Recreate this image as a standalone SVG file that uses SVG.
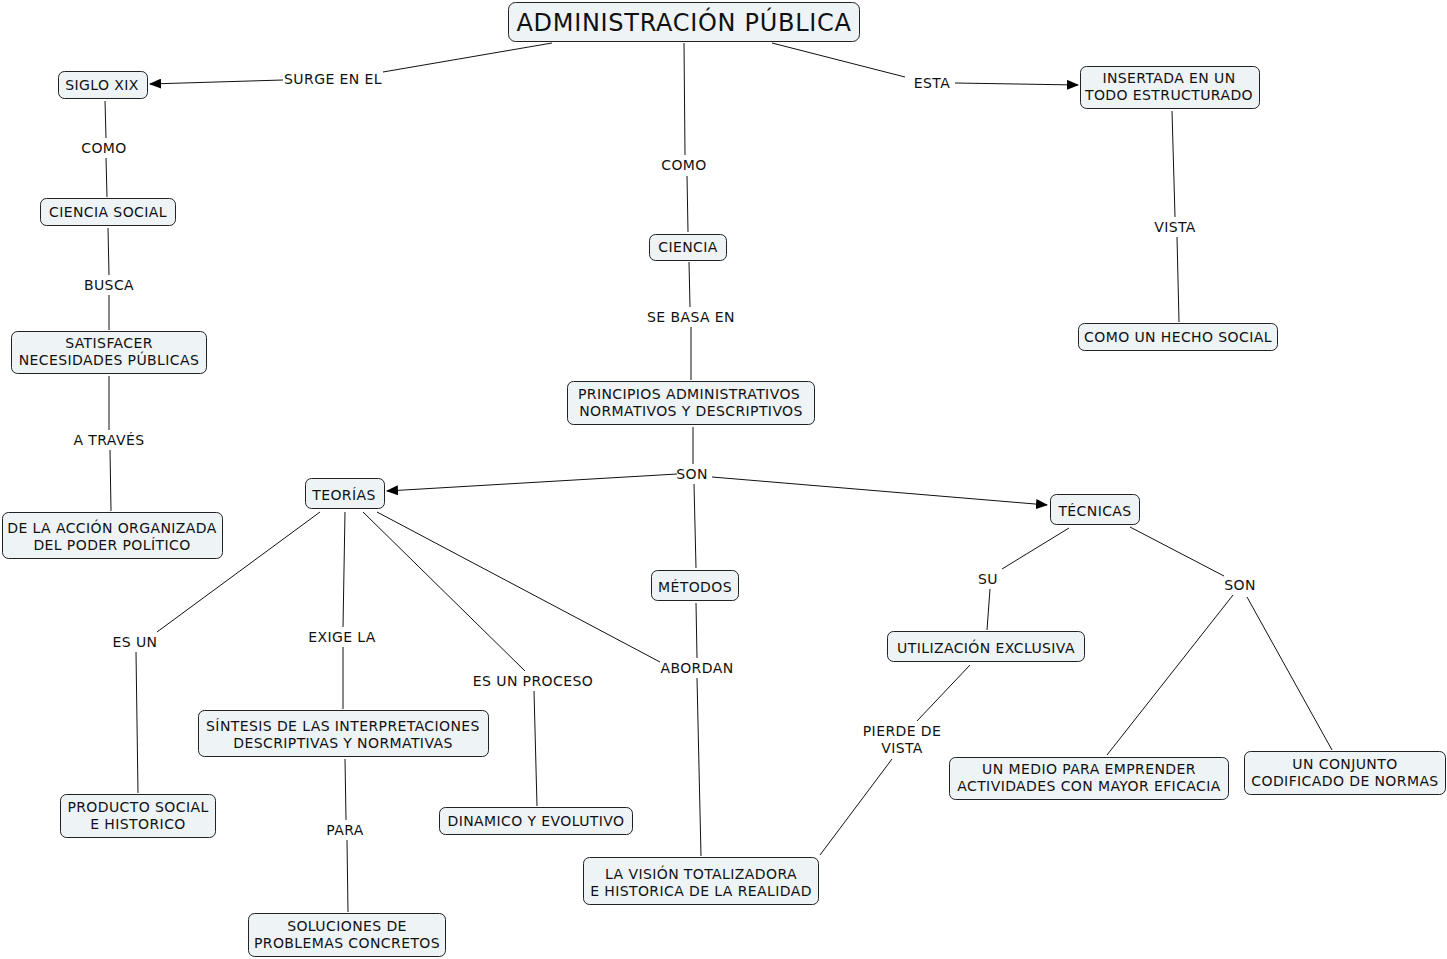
<svg xmlns="http://www.w3.org/2000/svg" width="1447" height="959" viewBox="0 0 1447 959">
<style>
.n rect{fill:#eef3f6;stroke:#222;stroke-width:1}
text{font-family:"DejaVu Sans",Verdana,sans-serif;font-size:14px;letter-spacing:0.4px;fill:#111;text-anchor:middle}
.t{font-size:24px;letter-spacing:0.7px}
.c line{stroke:#111;stroke-width:1;fill:none}
</style>
<defs>
<marker id="a" markerWidth="12" markerHeight="10" refX="11" refY="5" orient="auto" markerUnits="userSpaceOnUse">
<path d="M0,0 L12,5 L0,10 z" fill="#000"/>
</marker>
</defs>
<rect width="1447" height="959" fill="#fff"/>
<g class="c" id="connectors">
<line x1="552" y1="43" x2="383" y2="72"/>
<line x1="283" y1="80" x2="150" y2="84" marker-end="url(#a)"/>
<line x1="684" y1="43" x2="685" y2="155"/>
<line x1="687" y1="176" x2="688" y2="232"/>
<line x1="772" y1="43" x2="905" y2="77"/>
<line x1="955" y1="83" x2="1078" y2="85" marker-end="url(#a)"/>
<line x1="105" y1="101" x2="106" y2="138"/>
<line x1="106" y1="158" x2="107" y2="197"/>
<line x1="108" y1="228" x2="109" y2="275"/>
<line x1="109" y1="295" x2="109" y2="330"/>
<line x1="109" y1="376" x2="109" y2="430"/>
<line x1="110" y1="450" x2="111" y2="511"/>
<line x1="689" y1="262" x2="690" y2="307"/>
<line x1="691" y1="327" x2="691" y2="380"/>
<line x1="693" y1="427" x2="693" y2="464"/>
<line x1="677" y1="474" x2="387" y2="491" marker-end="url(#a)"/>
<line x1="712" y1="477" x2="1047" y2="505" marker-end="url(#a)"/>
<line x1="694" y1="484" x2="696" y2="568"/>
<line x1="1172" y1="111" x2="1175" y2="217"/>
<line x1="1177" y1="237" x2="1179" y2="322"/>
<line x1="320" y1="512" x2="157" y2="632"/>
<line x1="136" y1="652" x2="138" y2="793"/>
<line x1="345" y1="512" x2="343" y2="627"/>
<line x1="343" y1="647" x2="343" y2="709"/>
<line x1="363" y1="512" x2="525" y2="671"/>
<line x1="534" y1="691" x2="537" y2="806"/>
<line x1="377" y1="512" x2="660" y2="662"/>
<line x1="696" y1="603" x2="697" y2="658"/>
<line x1="697" y1="678" x2="701" y2="856"/>
<line x1="345" y1="759" x2="346" y2="820"/>
<line x1="347" y1="840" x2="348" y2="912"/>
<line x1="1069" y1="528" x2="1002" y2="569"/>
<line x1="990" y1="589" x2="987" y2="630"/>
<line x1="1130" y1="527" x2="1224" y2="576"/>
<line x1="1233" y1="595" x2="1107" y2="755"/>
<line x1="1247" y1="597" x2="1332" y2="750"/>
<line x1="970" y1="665" x2="917" y2="721"/>
<line x1="892" y1="759" x2="820" y2="855"/>
</g>
<g id="labels">
<text x="333" y="84">SURGE EN EL</text>
<text x="104" y="153">COMO</text>
<text x="109" y="290">BUSCA</text>
<text x="109" y="445">A TRAVÉS</text>
<text x="684" y="170">COMO</text>
<text x="691" y="322">SE BASA EN</text>
<text x="932" y="88">ESTA</text>
<text x="1175" y="232">VISTA</text>
<text x="692" y="479">SON</text>
<text x="135" y="647">ES UN</text>
<text x="342" y="642">EXIGE LA</text>
<text x="533" y="686">ES UN PROCESO</text>
<text x="697" y="673">ABORDAN</text>
<text x="345" y="835">PARA</text>
<text x="988" y="584">SU</text>
<text x="1240" y="590">SON</text>
<text x="902" y="736">PIERDE DE</text>
<text x="902" y="753">VISTA</text>
</g>
<g class="n" id="n-admin"><rect x="508.5" y="2.5" width="351" height="39" rx="7"/><text class="t" x="684" y="31">ADMINISTRACIÓN PÚBLICA</text></g>
<g class="n" id="n-siglo"><rect x="58.5" y="71.5" width="89" height="27" rx="6"/><text x="102" y="90">SIGLO XIX</text></g>
<g class="n" id="n-cienciasocial"><rect x="40.5" y="198.5" width="135" height="27" rx="6"/><text x="108" y="217">CIENCIA SOCIAL</text></g>
<g class="n" id="n-satisfacer"><rect x="11.5" y="331.5" width="195" height="42" rx="6"/><text x="109" y="348">SATISFACER</text><text x="109" y="365">NECESIDADES PÚBLICAS</text></g>
<g class="n" id="n-accion"><rect x="2.5" y="512.5" width="220" height="46" rx="6"/><text x="112" y="533">DE LA ACCIÓN ORGANIZADA</text><text x="112" y="550">DEL PODER POLÍTICO</text></g>
<g class="n" id="n-ciencia"><rect x="649.5" y="234.5" width="77" height="26" rx="6"/><text x="688" y="252">CIENCIA</text></g>
<g class="n" id="n-principios"><rect x="567.5" y="381.5" width="247" height="43" rx="6"/><text x="689" y="399">PRINCIPIOS ADMINISTRATIVOS</text><text x="691" y="416">NORMATIVOS Y DESCRIPTIVOS</text></g>
<g class="n" id="n-insertada"><rect x="1080.5" y="66.5" width="179" height="42" rx="6"/><text x="1169" y="83">INSERTADA EN UN</text><text x="1169" y="100">TODO ESTRUCTURADO</text></g>
<g class="n" id="n-hecho"><rect x="1078.5" y="323.5" width="199" height="27" rx="6"/><text x="1178" y="342">COMO UN HECHO SOCIAL</text></g>
<g class="n" id="n-teorias"><rect x="305.5" y="478.5" width="79" height="30" rx="6"/><text x="344" y="500">TEORÍAS</text></g>
<g class="n" id="n-tecnicas"><rect x="1050.5" y="494.5" width="89" height="30" rx="6"/><text x="1095" y="516">TÉCNICAS</text></g>
<g class="n" id="n-metodos"><rect x="651.5" y="570.5" width="87" height="30" rx="6"/><text x="695" y="592">MÉTODOS</text></g>
<g class="n" id="n-utilizacion"><rect x="887.5" y="631.5" width="197" height="30" rx="6"/><text x="986" y="653">UTILIZACIÓN EXCLUSIVA</text></g>
<g class="n" id="n-producto"><rect x="60.5" y="794.5" width="155" height="43" rx="6"/><text x="138" y="812">PRODUCTO SOCIAL</text><text x="138" y="829">E HISTORICO</text></g>
<g class="n" id="n-sintesis"><rect x="198.5" y="710.5" width="290" height="46" rx="6"/><text x="343" y="731">SÍNTESIS DE LAS INTERPRETACIONES</text><text x="343" y="748">DESCRIPTIVAS Y NORMATIVAS</text></g>
<g class="n" id="n-dinamico"><rect x="439.5" y="807.5" width="193" height="27" rx="6"/><text x="536" y="826">DINAMICO Y EVOLUTIVO</text></g>
<g class="n" id="n-vision"><rect x="583.5" y="857.5" width="235" height="47" rx="6"/><text x="701" y="879">LA VISIÓN TOTALIZADORA</text><text x="701" y="896">E HISTORICA DE LA REALIDAD</text></g>
<g class="n" id="n-soluciones"><rect x="248.5" y="913.5" width="197" height="43" rx="6"/><text x="347" y="931">SOLUCIONES DE</text><text x="347" y="948">PROBLEMAS CONCRETOS</text></g>
<g class="n" id="n-medio"><rect x="949.5" y="757.5" width="279" height="42" rx="6"/><text x="1089" y="774">UN MEDIO PARA EMPRENDER</text><text x="1089" y="791">ACTIVIDADES CON MAYOR EFICACIA</text></g>
<g class="n" id="n-conjunto"><rect x="1244.5" y="751.5" width="201" height="43" rx="6"/><text x="1345" y="769">UN CONJUNTO</text><text x="1345" y="786">CODIFICADO DE NORMAS</text></g>
</svg>
